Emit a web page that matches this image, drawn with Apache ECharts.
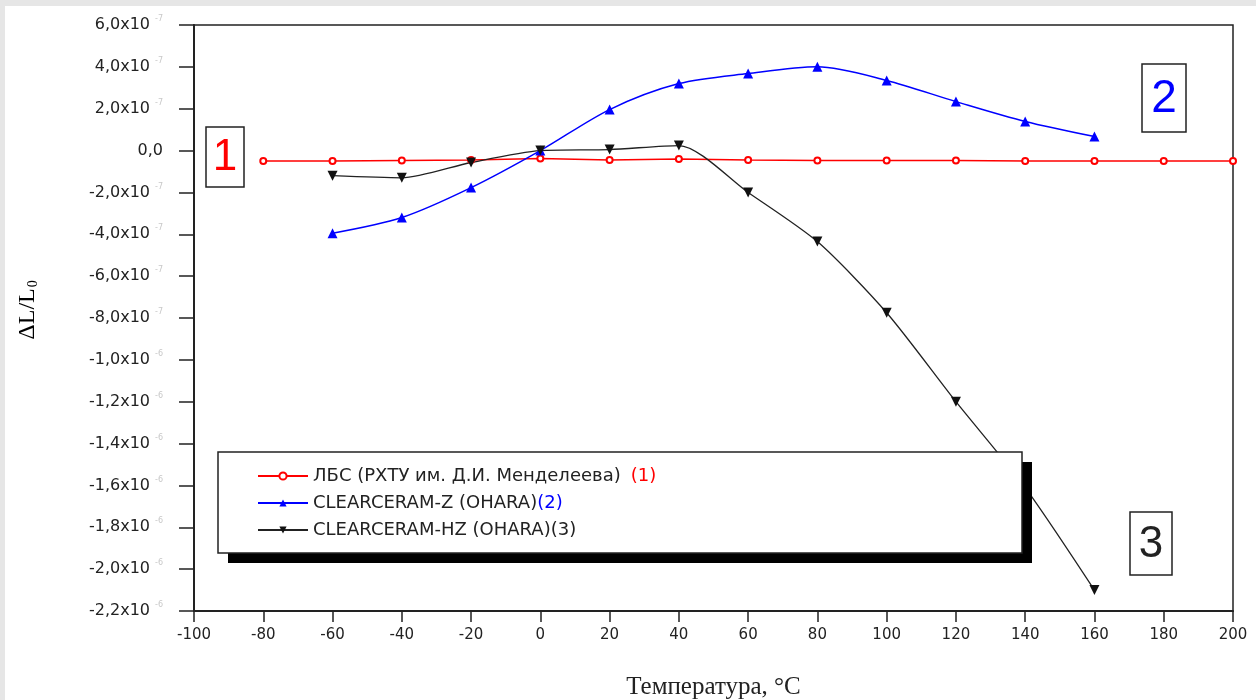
<!DOCTYPE html>
<html>
<head>
<meta charset="utf-8">
<script src="https://cdn.jsdelivr.net/npm/echarts@6/dist/echarts.min.js"></script>
<style>
  html, body { margin: 0; padding: 0; background: #fff; }
  #chart { width: 1256px; height: 700px; }
</style>
</head>
<body>
<div id="chart"></div>
<script>
// temperatures, °C
var tempLBS = [-80, -60, -40, -20, 0, 20, 40, 60, 80, 100, 120, 140, 160, 180, 200];
var tempOhara = [-60, -40, -20, 0, 20, 40, 60, 80, 100, 120, 140, 160];

// dL/L0 in units of 1e-7
var lbsValues = [-0.5, -0.5, -0.47, -0.45, -0.38, -0.45, -0.4, -0.45, -0.47, -0.48, -0.48, -0.5, -0.5, -0.5, -0.5];
var zValues = [-3.95, -3.2, -1.77, 0.0, 1.96, 3.2, 3.68, 4.0, 3.35, 2.34, 1.39, 0.67];
var hzValues = [-1.2, -1.3, -0.57, 0.0, 0.05, 0.24, -2.0, -4.35, -7.75, -12.0, -16.1, -21.0];

var seriesNames = [
    'ЛБС (РХТУ им. Д.И. Менделеева)',
    'CLEARCERAM-Z (OHARA)',
    'CLEARCERAM-HZ (OHARA)'
];
var seriesTags = ['(1)', '(2)', '(3)'];

function pairs(xs, ys) {
    var out = [];
    for (var i = 0; i < xs.length; i++) out.push([xs[i], ys[i]]);
    return out;
}

function yLabel(v) {
    if (v === 0) return '{a|0,0}';
    if (Math.abs(v) < 10) return '{a|' + v.toFixed(1).replace('.', ',') + 'x10}{s|-7}';
    return '{a|' + (v / 10).toFixed(1).replace('.', ',') + 'x10}{s|-6}';
}

var chart = echarts.init(document.getElementById('chart'));

var tickFont = '"DejaVu Sans", Arial, sans-serif';

var option = {
    backgroundColor: '#fff',
    animation: false,
    grid: {
        left: 194, right: 23, top: 25, bottom: 89,
        outerBoundsMode: 'none',
        containLabel: false,
        show: true, borderColor: '#222', borderWidth: 1.5,
        backgroundColor: 'transparent'
    },
    xAxis: {
        type: 'value', min: -100, max: 200, interval: 20,
        name: 'Температура, °C',
        nameLocation: 'middle', nameGap: 64,
        nameTextStyle: { fontFamily: '"Liberation Serif", "DejaVu Serif", serif', fontSize: 25, color: '#222' },
        axisLine: { onZero: false, lineStyle: { color: '#222', width: 2 } },
        axisTick: { length: 11, lineStyle: { color: '#222', width: 1.5 } },
        axisLabel: { margin: 17, fontFamily: tickFont, fontSize: 15, color: '#222' },
        splitLine: { show: false }
    },
    yAxis: {
        type: 'value', min: -22, max: 6, interval: 2,
        axisLine: { show: true, onZero: false, lineStyle: { color: '#222', width: 2 } },
        axisTick: { show: true, length: 15, lineStyle: { color: '#222', width: 1.5 } },
        axisLabel: {
            margin: 31,
            formatter: yLabel,
            rich: {
                a: { fontFamily: tickFont, fontSize: 16, color: '#222' },
                s: { fontFamily: tickFont, fontSize: 8, color: '#c8c8c8', padding: [0, 0, 12, 5] }
            }
        },
        splitLine: { show: false }
    },
    legend: {
        orient: 'vertical',
        left: 252, top: 462,
        z: 10,
        itemWidth: 50, itemHeight: 9, itemGap: 9,
        data: seriesNames,
        formatter: function (name) {
            var i = seriesNames.indexOf(name);
            var tagStyle = ['r', 'b', 'k'][i];
            return '{t|' + name + '}' + (i === 0 ? '   ' : '') + '{' + tagStyle + '|' + seriesTags[i] + '}';
        },
        textStyle: {
            rich: {
                t: { fontFamily: tickFont, fontSize: 18, color: '#222', height: 20 },
                r: { fontFamily: tickFont, fontSize: 18, color: '#ff0000', height: 20 },
                b: { fontFamily: tickFont, fontSize: 18, color: '#0000ff', height: 20 },
                k: { fontFamily: tickFont, fontSize: 18, color: '#222', height: 20 }
            }
        }
    },
    graphic: [
        // grey page frame
        { type: 'rect', z: 100, shape: { x: 0, y: 0, width: 1256, height: 6 }, style: { fill: '#e6e6e6' } },
        { type: 'rect', z: 100, shape: { x: 0, y: 0, width: 5, height: 700 }, style: { fill: '#e6e6e6' } },
        // y axis title
        {
            type: 'text', z: 5,
            x: 28, y: 310, rotation: Math.PI / 2,
            style: {
                text: '{m|ΔL/L}{sub|0}',
                align: 'center', verticalAlign: 'middle',
                rich: {
                    m: { fontFamily: '"Liberation Serif", serif', fontSize: 24, color: '#222' },
                    sub: { fontFamily: '"Liberation Serif", serif', fontSize: 14, color: '#222', padding: [10, 0, 0, 1] }
                }
            }
        },
        // legend frame with shadow, above the curves
        { type: 'rect', z: 8, shape: { x: 228, y: 462, width: 804, height: 101 }, style: { fill: '#000' } },
        { type: 'rect', z: 9, shape: { x: 218, y: 452, width: 804, height: 101 }, style: { fill: '#fff', stroke: '#222', lineWidth: 1.5 } },
        // curve labels
        { type: 'rect', z: 5, shape: { x: 206, y: 127, width: 38, height: 60 }, style: { fill: '#fff', stroke: '#222', lineWidth: 1.5 } },
        { type: 'text', z: 6, x: 225, y: 158, style: { text: '1', fontFamily: 'Arial, "Liberation Sans", sans-serif', fontSize: 44, fill: '#ff0000', align: 'center', verticalAlign: 'middle' } },
        { type: 'rect', z: 5, shape: { x: 1142, y: 64, width: 44, height: 68 }, style: { fill: '#fff', stroke: '#222', lineWidth: 1.5 } },
        { type: 'text', z: 6, x: 1164, y: 99, style: { text: '2', fontFamily: 'Arial, "Liberation Sans", sans-serif', fontSize: 46, fill: '#0000ff', align: 'center', verticalAlign: 'middle' } },
        { type: 'rect', z: 5, shape: { x: 1130, y: 512, width: 42, height: 63 }, style: { fill: '#fff', stroke: '#222', lineWidth: 1.5 } },
        { type: 'text', z: 6, x: 1151, y: 545, style: { text: '3', fontFamily: 'Arial, "Liberation Sans", sans-serif', fontSize: 44, fill: '#222', align: 'center', verticalAlign: 'middle' } }
    ],
    series: [
        {
            name: seriesNames[0], type: 'line',
            data: pairs(tempLBS, lbsValues),
            symbol: 'emptyCircle', symbolSize: 6,
            lineStyle: { color: '#ff0000', width: 1.5 },
            itemStyle: { color: '#ff0000', borderWidth: 1 },
            z: 2
        },
        {
            name: seriesNames[1], type: 'line',
            data: pairs(tempOhara, zValues),
            smooth: 0.3,
            symbol: 'triangle', symbolSize: 10,
            lineStyle: { color: '#0000ff', width: 1.5 },
            itemStyle: { color: '#0000ff' },
            z: 2
        },
        {
            name: seriesNames[2], type: 'line',
            data: pairs(tempOhara, hzValues),
            smooth: 0.25,
            symbol: 'triangle', symbolRotate: 180, symbolSize: 10,
            lineStyle: { color: '#222', width: 1.3 },
            itemStyle: { color: '#111' },
            z: 2
        }
    ]
};

chart.setOption(option);
</script>
</body>
</html>
